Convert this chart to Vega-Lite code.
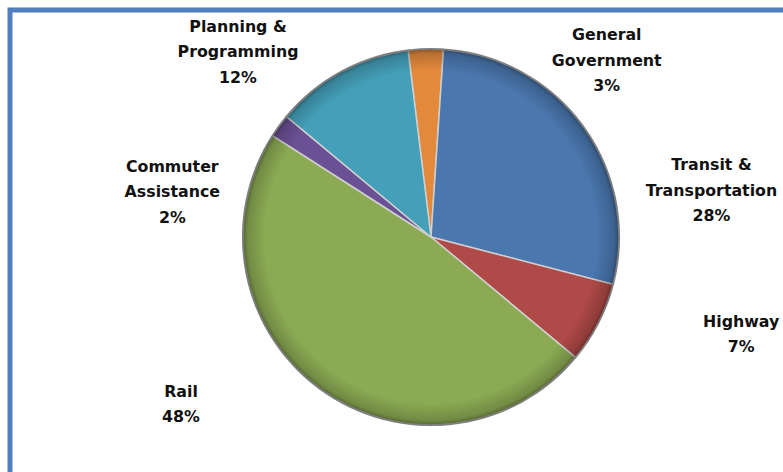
{
  "$schema": "https://vega.github.io/schema/vega-lite/v6.json",
  "autosize": {"type": "none"},
  "padding": {"left": 10, "top": 10, "right": 0, "bottom": 0},
  "width": 842,
  "height": 480,
  "background": "white",
  "config": {
    "view": {"stroke": null},
    "text": {"font": "DejaVu Sans", "fontWeight": "bold", "fontSize": 15.8, "color": "#111111", "lineBreak": "\n", "lineHeight": 25.5, "align": "center", "baseline": "alphabetic"}
  },
  "data": {
    "values": [
      {"category": "General Government", "label": "General\nGovernment\n3%", "percent": 3},
      {"category": "Transit & Transportation", "label": "Transit &\nTransportation\n28%", "percent": 28},
      {"category": "Highway", "label": "Highway\n7%", "percent": 7},
      {"category": "Rail", "label": "Rail\n48%", "percent": 48},
      {"category": "Commuter Assistance", "label": "Commuter\nAssistance\n2%", "percent": 2},
      {"category": "Planning & Programming", "label": "Planning &\nProgramming\n12%", "percent": 12}
    ]
  },
  "transform": [
    {"window": [{"op": "row_number", "as": "rank"}]},
    {"stack": "percent", "groupby": [], "sort": [{"field": "rank", "order": "ascending"}], "as": ["p0", "p1"]},
    {"calculate": "(datum.p0 + datum.p1) / 2", "as": "mid"}
  ],
  "layer": [
    {
      "data": {"values": [{}]},
      "transform": [],
      "mark": {"type": "rect", "fill": null, "stroke": "#4F7FBE", "strokeWidth": 5},
      "encoding": {}
    },
    {
      "mark": {"type": "arc", "radius": 188, "y": {"expr": "height/2 - 13"}, "stroke": "#cfcfcf", "strokeWidth": 1.5},
      "encoding": {
        "theta": {"field": "p0", "type": "quantitative", "scale": {"domain": [0, 100], "range": [-0.1222, 6.1610]}},
        "theta2": {"field": "p1"},
        "color": {
          "field": "category", "type": "nominal", "legend": null,
          "scale": {
            "domain": ["General Government", "Transit & Transportation", "Highway", "Rail", "Commuter Assistance", "Planning & Programming"],
            "range": ["#E3893B", "#4A77AE", "#B04A48", "#8BAA53", "#6A5094", "#44A0B9"]
          }
        }
      }
    },
    {
      "data": {"values": [{}]},
      "transform": [],
      "mark": {
        "type": "arc", "radius": 189, "theta": 0, "theta2": 6.2832, "y": {"expr": "height/2 - 13"},
        "fill": {
          "gradient": "radial", "x1": 0.5, "y1": 0.5, "r1": 0, "x2": 0.5, "y2": 0.5, "r2": 0.5,
          "stops": [
            {"offset": 0, "color": "rgba(0,0,0,0)"},
            {"offset": 0.88, "color": "rgba(0,0,0,0)"},
            {"offset": 0.97, "color": "rgba(0,0,0,0.18)"},
            {"offset": 1, "color": "rgba(0,0,0,0.45)"}
          ]
        }
      },
      "encoding": {}
    },
    {"transform": [{"filter": "datum.category === 'General Government'"}], "mark": {"type": "text", "radius": 188, "y": {"expr": "height/2 - 13"}, "dx": 181, "dy": -9}, "encoding": {"theta": {"field": "mid", "type": "quantitative"}, "text": {"field": "label"}}},
    {"transform": [{"filter": "datum.category === 'Transit & Transportation'"}], "mark": {"type": "text", "radius": 188, "y": {"expr": "height/2 - 13"}, "dx": 128, "dy": 43}, "encoding": {"theta": {"field": "mid", "type": "quantitative"}, "text": {"field": "label"}}},
    {"transform": [{"filter": "datum.category === 'Highway'"}], "mark": {"type": "text", "radius": 188, "y": {"expr": "height/2 - 13"}, "dx": 143, "dy": 4}, "encoding": {"theta": {"field": "mid", "type": "quantitative"}, "text": {"field": "label"}}},
    {"transform": [{"filter": "datum.category === 'Rail'"}], "mark": {"type": "text", "radius": 188, "y": {"expr": "height/2 - 13"}, "dx": -139, "dy": 8}, "encoding": {"theta": {"field": "mid", "type": "quantitative"}, "text": {"field": "label"}}},
    {"transform": [{"filter": "datum.category === 'Commuter Assistance'"}], "mark": {"type": "text", "radius": 188, "y": {"expr": "height/2 - 13"}, "dx": -107, "dy": 46}, "encoding": {"theta": {"field": "mid", "type": "quantitative"}, "text": {"field": "label"}}},
    {"transform": [{"filter": "datum.category === 'Planning & Programming'"}], "mark": {"type": "text", "radius": 188, "y": {"expr": "height/2 - 13"}, "dx": -103, "dy": -40}, "encoding": {"theta": {"field": "mid", "type": "quantitative"}, "text": {"field": "label"}}}
  ]
}
